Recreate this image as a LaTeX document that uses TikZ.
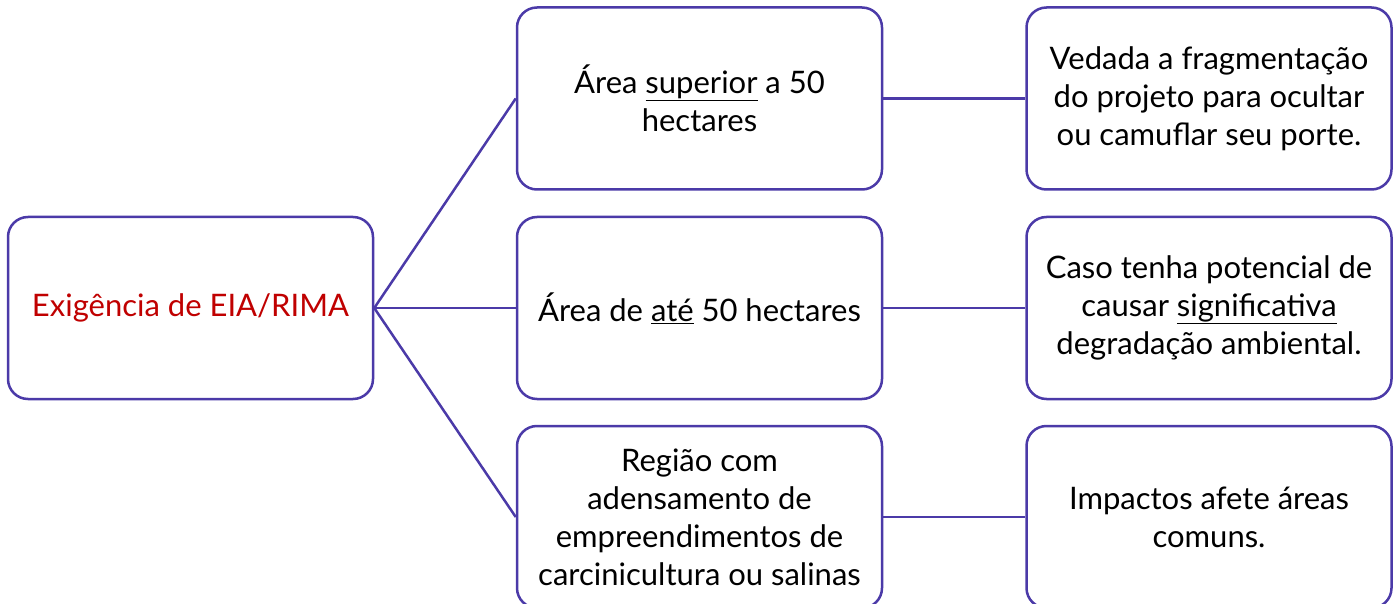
\documentclass[tikz,border=0pt]{standalone}
\usepackage{fontspec}
\setmainfont{Lato}
\definecolor{boxline}{HTML}{4B3AA8}
\definecolor{titlered}{HTML}{C00000}
\begin{document}
\begin{tikzpicture}[x=1pt,y=-1pt,
  box/.style={draw=boxline, line width=2.5pt, rounded corners=20pt, fill=white,
    minimum width=365pt, minimum height=182pt, align=center, inner sep=0pt,
    font=\fontsize{31}{38}\selectfont},
  link/.style={draw=boxline, line width=2.5pt}]
\useasboundingbox (0,0) rectangle (1397,604);
\node[box, text=titlered] (root) at (190.5,308) {Exigência de EIA/RIMA};
\node[box] (m1) at (699.5,98.5) {Área \underline{superior} a 50\\hectares};
\node[box] (m2) at (699.5,308) {Área de \underline{até} 50 hectares};
\node[box] (m3) at (699.5,517) {Região com\\adensamento de\\empreendimentos de\\carcinicultura ou salinas};
\node[box] (r1) at (1209,98.5) {Vedada a fragmentação\\do projeto para ocultar\\ou camuflar seu porte.};
\node[box] (r2) at (1209,308) {Caso tenha potencial de\\causar \underline{significativa}\\degradação ambiental.};
\node[box] (r3) at (1209,517) {Impactos afete áreas\\comuns.};
\draw[link] (root.east) -- (m1.west);
\draw[link] (root.east) -- (m2.west);
\draw[link] (root.east) -- (m3.west);
\draw[link] (m1.east) -- (r1.west);
\draw[link] (m2.east) -- (r2.west);
\draw[link] (m3.east) -- (r3.west);
\end{tikzpicture}
\end{document}
